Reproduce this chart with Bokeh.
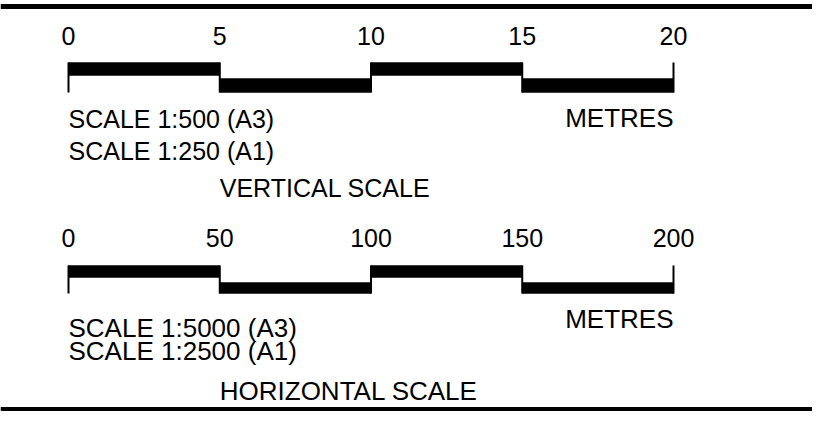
from bokeh.plotting import figure
from bokeh.models import Range1d
from bokeh.core.properties import value
from bokeh.embed import file_html
from bokeh.resources import INLINE

# ---- data ----
v_ticks = [0, 5, 10, 15, 20]
v_labels = ["0", "5", "10", "15", "20"]
h_ticks = [0, 50, 100, 150, 200]
h_labels = ["0", "50", "100", "150", "200"]
v_notes = ["SCALE 1:500 (A3)", "SCALE 1:250 (A1)"]
h_notes = ["SCALE 1:5000 (A3)", "SCALE 1:2500 (A1)"]
unit_label = "METRES"
v_title = "VERTICAL SCALE"
h_title = "HORIZONTAL SCALE"

# ---- layout (pixels) ----
W, H = 812, 411
origin_px = 68.0          # where 0 sits, in px
bar_px = 605.0            # length of the whole bar in px
FONT = value("Liberation Sans")
TEXT_SHIFT = -10          # compensate renderer baseline offset

v_ppu = bar_px / v_ticks[-1]
h_ppu = bar_px / h_ticks[-1]

p = figure(width=W, height=H, output_backend="svg", toolbar_location=None,
           x_range=Range1d(-origin_px / v_ppu, (W - origin_px) / v_ppu),
           y_range=Range1d(H, 0),
           x_axis_type=None, y_axis_type=None, min_border=0)
p.extra_x_ranges = {"h": Range1d(-origin_px / h_ppu, (W - origin_px) / h_ppu)}
p.grid.visible = False
p.outline_line_color = None
p.background_fill_color = "white"
p.border_fill_color = "white"

# frame lines
p.hspan(y=[5.5, 408.5], line_width=5, line_color="black")


def txt(x, y, text, size, align, kw):
    p.text(x=x, y=[v + TEXT_SHIFT for v in y], text=text, text_font=FONT,
           text_font_size=size, text_align=align,
           text_baseline="alphabetic", text_color="black", **kw)


def draw_scale(ticks, labels, notes, title, rng, hi, lo, lab_y, note_y,
               note_size, unit_y, unit_size, title_y, title_size, lab_size):
    kw = {} if rng is None else {"x_range_name": rng}
    n = len(ticks) - 1
    lefts = ticks[:-1]
    rights = ticks[1:]
    tops = [hi[0] if i % 2 == 0 else lo[0] for i in range(n)]
    bots = [hi[1] if i % 2 == 0 else lo[1] for i in range(n)]
    p.quad(left=lefts, right=rights, top=tops, bottom=bots,
           fill_color="black", line_color="black", line_width=0.5, **kw)
    p.segment(x0=ticks, x1=ticks, y0=[hi[0]] * len(ticks), y1=[lo[1]] * len(ticks),
              line_color="black", line_width=2, **kw)
    txt(ticks, [lab_y] * len(ticks), labels, lab_size, "center", kw)
    txt([ticks[0]] * len(notes), note_y, notes, note_size, "left", kw)
    txt([ticks[-1]], [unit_y], [unit_label], unit_size, "right", kw)
    txt([ticks[1]], [title_y], [title], title_size, "left", kw)


draw_scale(v_ticks, v_labels, v_notes, v_title, None,
           hi=(62, 75), lo=(78, 92), lab_y=45, note_y=[128, 160],
           note_size="25px", unit_y=127, unit_size="26px",
           title_y=197, title_size="25px", lab_size="25px")

draw_scale(h_ticks, h_labels, h_notes, h_title, "h",
           hi=(265, 277), lo=(282, 293), lab_y=247, note_y=[337, 360],
           note_size="26px", unit_y=328, unit_size="26px",
           title_y=400, title_size="26px", lab_size="25px")

open("out.html", "w").write(file_html(p, INLINE))
